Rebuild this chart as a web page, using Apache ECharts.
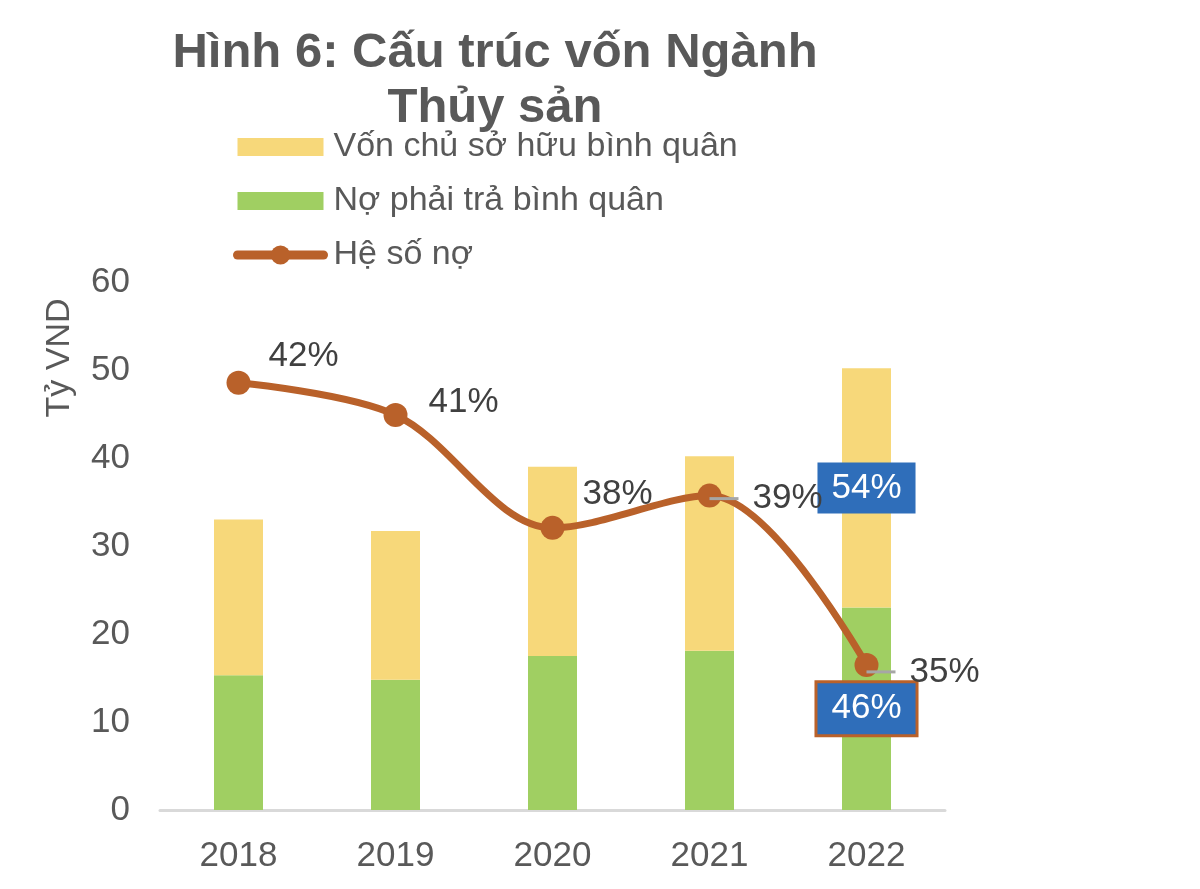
<!DOCTYPE html>
<html>
<head>
<meta charset="utf-8">
<script src="https://cdn.jsdelivr.net/npm/echarts@6/dist/echarts.min.js"></script>
<style>
html,body{margin:0;padding:0;background:#fff}
#chart{width:1200px;height:889px}
</style>
</head>
<body>
<div id="chart"></div>
<script>
// số liệu
var years = ['2018', '2019', '2020', '2021', '2022'];
var noPhaiTra = [15.3, 14.8, 17.5, 18.1, 23.0];
var vonChuSoHuu = [17.7, 16.9, 21.5, 22.1, 27.2];
var heSoNo = [42.0, 41.2, 38.4, 39.2, 35.0];
var yTicks = [0, 10, 20, 30, 40, 50, 60];

// vị trí nhãn của đường hệ số nợ (dx, dy so với điểm)
var lineLabelOffset = [[65, -26], [68, -13], [65, -34], [0, 3], [0, 7]];
var lineLabelLeader = [false, false, false, true, true];
// nhãn % chỉ hiện cho năm cuối
var shareLabelIndex = 4;

var fontFam = '"Liberation Sans", Arial, sans-serif';
var gray = '#595959';
var orange = '#B9612A';
var blue = '#2F6EBA';

var chart = echarts.init(document.getElementById('chart'));

function shareData(values, other, border) {
    return values.map(function (v, i) {
        if (i !== shareLabelIndex) return v;
        return {
            value: v,
            label: {
                show: true,
                position: 'inside',
                formatter: Math.round(v / (v + other[i]) * 100) + '%',
                color: '#fff',
                fontSize: 35,
                fontFamily: fontFam,
                backgroundColor: blue,
                padding: [9, 14, 7, 14],
                borderColor: border || blue,
                borderWidth: border ? 3 : 0
            }
        };
    });
}

var lineData = heSoNo.map(function (v, i) {
    var txt = Math.round(v) + '%';
    var lbl = { offset: lineLabelOffset[i], formatter: txt };
    if (lineLabelLeader[i]) {
        // đường dẫn ngắn màu xám từ điểm tới nhãn
        lbl.align = 'left';
        lbl.formatter = '{ln|}{t|' + txt + '}';
        lbl.rich = {
            ln: { width: 29, height: 3, backgroundColor: '#A6A6A6' },
            t: { fontSize: 35, color: '#404040', fontFamily: fontFam, padding: [0, 0, 0, 14] }
        };
    }
    return { value: v, label: lbl };
});

var option = {
    backgroundColor: '#fff',
    animation: false,
    title: {
        text: 'Hình 6: Cấu trúc vốn Ngành\nThủy sản',
        left: 490,
        top: 21,
        textAlign: 'center',
        textStyle: {
            fontSize: 49,
            fontWeight: 'bold',
            color: gray,
            fontFamily: fontFam,
            lineHeight: 55
        }
    },
    legend: {
        orient: 'vertical',
        left: 228,
        top: 125,
        itemWidth: 86,
        itemHeight: 24,
        itemGap: 20,
        data: [
            { name: 'Vốn chủ sở hữu bình quân', icon: 'path://M0,0H86V18H0Z' },
            { name: 'Nợ phải trả bình quân', icon: 'path://M0,0H86V18H0Z' },
            { name: 'Hệ số nợ' }
        ],
        lineStyle: { width: 9, cap: 'round', color: orange },
        textStyle: { fontSize: 34, color: gray, fontFamily: fontFam, padding: [0, 0, 0, 5] }
    },
    graphic: [{
        type: 'text',
        x: 60,
        y: 358,
        rotation: Math.PI / 2,
        style: {
            text: 'Tỷ VND',
            fill: gray,
            font: '34px ' + fontFam,
            align: 'center',
            verticalAlign: 'middle'
        }
    }],
    grid: { left: 160, right: 255, top: 282, bottom: 79, containLabel: false },
    xAxis: {
        type: 'category',
        data: years,
        axisLine: { lineStyle: { color: '#D9D9D9', width: 3 } },
        axisTick: { show: false },
        axisLabel: { fontSize: 35, color: gray, fontFamily: fontFam, margin: 29 }
    },
    yAxis: [{
        type: 'value',
        min: yTicks[0],
        max: yTicks[yTicks.length - 1],
        interval: yTicks[1] - yTicks[0],
        axisLine: { show: false },
        axisTick: { show: false },
        splitLine: { show: false },
        axisLabel: { fontSize: 35, color: gray, fontFamily: fontFam, margin: 30 }
    }, {
        type: 'value',
        min: 31.4,
        max: 44.5,
        show: false,
        splitLine: { show: false }
    }],
    series: [{
        name: 'Nợ phải trả bình quân',
        type: 'bar',
        stack: 'von',
        barWidth: 49,
        itemStyle: { color: '#A0CF62' },
        data: shareData(noPhaiTra, vonChuSoHuu, orange)
    }, {
        name: 'Vốn chủ sở hữu bình quân',
        type: 'bar',
        stack: 'von',
        barWidth: 49,
        itemStyle: { color: '#F7D87A' },
        data: shareData(vonChuSoHuu, noPhaiTra)
    }, {
        name: 'Hệ số nợ',
        type: 'line',
        yAxisIndex: 1,
        smooth: 0.33,
        symbol: 'circle',
        symbolSize: 24,
        z: 5,
        lineStyle: { color: orange, width: 7 },
        itemStyle: { color: orange },
        label: {
            show: true,
            position: 'inside',
            fontSize: 35,
            color: '#404040',
            fontFamily: fontFam
        },
        data: lineData
    }]
};

chart.setOption(option);
</script>
</body>
</html>
